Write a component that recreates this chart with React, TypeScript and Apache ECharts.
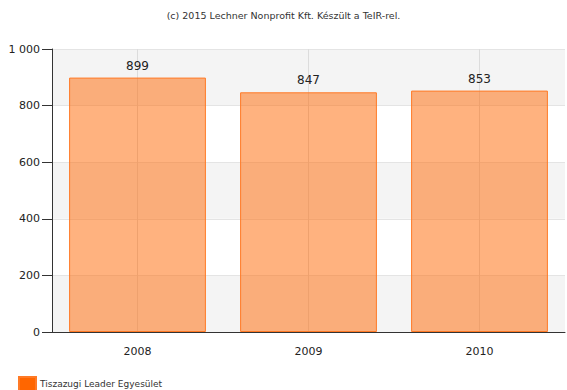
import React, { useEffect, useRef } from "react";
import * as echarts from "echarts";

const categories = ["2008", "2009", "2010"];
const values = [899, 847, 853];
const seriesName = "Tiszazugi Leader Egyesület";
const titleText = "(c) 2015 Lechner Nonprofit Kft. Készült a TeIR-rel.";

export default function App() {
  const ref = useRef<HTMLDivElement>(null);
  useEffect(() => {
    const chart = echarts.init(ref.current!, null, { renderer: "svg" });
    chart.setOption({
      animation: false,
      textStyle: { fontFamily: "DejaVu Sans" },
      title: {
        text: titleText,
        left: "center",
        top: 10,
        padding: 0,
        textStyle: { fontSize: 9.5, fontWeight: "normal", color: "#333", fontFamily: "DejaVu Sans" },
      },
      legend: {
        left: 18,
        top: 376,
        padding: 0,
        itemWidth: 17,
        itemHeight: 14,
        itemGap: 4,
        icon: "rect",
        textStyle: { fontSize: 9, color: "#333", fontFamily: "DejaVu Sans", padding: [0, 0, 0, -1] },
        data: [{ name: seriesName, itemStyle: { color: "#ff6600", opacity: 1 } }],
      },
      grid: { left: 52, right: 2, top: 49, bottom: 58, containLabel: false },
      xAxis: {
        type: "category",
        data: categories,
        axisLine: { lineStyle: { color: "#333", width: 1 } },
        axisTick: { alignWithLabel: true, length: 5, lineStyle: { color: "#333" } },
        axisLabel: { fontSize: 11, color: "#222", margin: 14, fontFamily: "DejaVu Sans" },
        splitLine: { show: true, alignWithLabel: true, lineStyle: { color: "#dcdcdc", width: 1 } },
      },
      yAxis: {
        type: "value",
        min: 0,
        max: 1000,
        interval: 200,
        axisLine: { show: true, lineStyle: { color: "#333", width: 1 } },
        axisTick: { show: true, length: 10, lineStyle: { color: "#333" } },
        axisLabel: {
          fontSize: 11,
          color: "#222",
          margin: 12,
          fontFamily: "DejaVu Sans",
          formatter: (v: number) => (v >= 1000 ? "1 000" : String(v)),
        },
        splitLine: { show: true, lineStyle: { color: "#e4e4e4", width: 1 } },
        splitArea: { show: true, areaStyle: { color: ["#f4f4f4", "#ffffff"] } },
      },
      series: [
        {
          name: seriesName,
          type: "bar",
          data: values,
          barCategoryGap: "20%",
          itemStyle: {
            color: "rgba(255,102,0,0.5)",
            borderColor: "#ff7a26",
            borderWidth: 1,
          },
          label: {
            show: true,
            position: "top",
            distance: 6,
            fontSize: 12,
            color: "#222",
            fontFamily: "DejaVu Sans",
          },
          z: 1,
        },
      ],
    });
    return () => chart.dispose();
  }, []);
  return <div ref={ref} style={{ width: 567, height: 390, position: "absolute", left: 0, top: 0 }} />;
}
